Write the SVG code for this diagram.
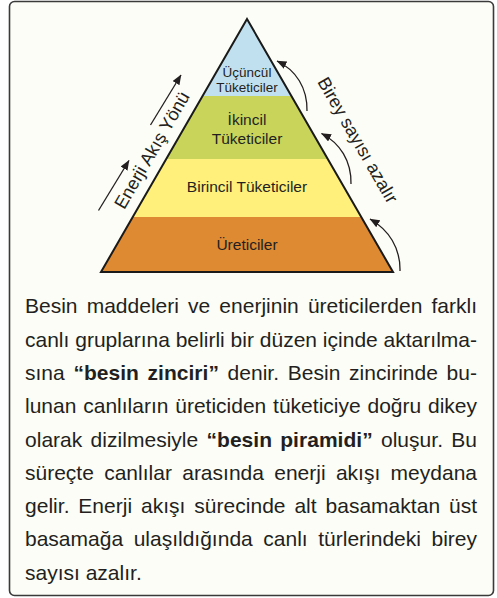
<svg xmlns="http://www.w3.org/2000/svg" width="497" height="598" viewBox="0 0 497 598">
<defs>
<style>
text{font-family:"Liberation Sans",Arial,Helvetica,sans-serif;fill:#231f20}
.lvl{font-size:15.5px;text-anchor:middle}
.lvl-s{font-size:13.5px;text-anchor:middle}
.side{font-size:18px;text-anchor:middle}
.para{font-size:21px}
.b{font-weight:bold}
.arr{fill:none;stroke:#231f20;stroke-width:1.3}
</style>
<marker id="ah" viewBox="0 0 10 8" refX="9.5" refY="4" markerWidth="10" markerHeight="8" markerUnits="userSpaceOnUse" orient="auto">
<path d="M0,0 L10,4 L0,8 Z" fill="#231f20"/>
</marker>
</defs>
<rect x="0" y="0" width="497" height="598" fill="#ffffff"/>
<rect id="frame" x="9.5" y="1.5" width="484" height="594" rx="5" fill="#fcfdf6" stroke="#3a3a3a" stroke-width="1.6"/>

<g id="pyramid">
<g id="level-ureticiler">
<polygon points="132.7,217 361.3,217 393,272 101,272" fill="#dd8a33"/>
<text class="lvl" x="247" y="250">Üreticiler</text>
</g>
<g id="level-birincil">
<polygon points="166.2,159 327.8,159 361.3,217 132.7,217" fill="#fef07b"/>
<text class="lvl" x="247" y="192">Birincil Tüketiciler</text>
</g>
<g id="level-ikincil">
<polygon points="202.6,96 291.4,96 327.8,159 166.2,159" fill="#c9d45b"/>
<text class="lvl" x="247" y="124.5">İkincil</text>
<text class="lvl" x="247" y="143.5">Tüketiciler</text>
</g>
<g id="level-ucuncul">
<polygon points="247,19 291.4,96 202.6,96" fill="#c1e0ef"/>
<text class="lvl-s" x="247" y="76.5">Üçüncül</text>
<text class="lvl-s" x="247" y="91.5">Tüketiciler</text>
</g>
<polygon points="247,19 393,272 101,272" fill="none" stroke="#1a1a1a" stroke-width="2" stroke-linejoin="miter"/>
</g>

<g id="connectors">
<line class="arr" x1="98.5" y1="210.5" x2="129" y2="160.5" marker-end="url(#ah)"/>
<line class="arr" x1="150.5" y1="125" x2="181" y2="75" marker-end="url(#ah)"/>
<path class="arr" d="M307,111 C307.5,88 296,70 277,61" marker-end="url(#ah)"/>
<path class="arr" d="M351,184 C351.5,161 340,143 321.5,133.5" marker-end="url(#ah)"/>
<path class="arr" d="M400,271 C400.5,248 389,230 370,219" marker-end="url(#ah)"/>
</g>

<g id="side-labels">
<text id="enerji" class="side" transform="translate(157.3,153.3) rotate(-60)">Enerji Akış Yönü</text>
<text id="birey" class="side" transform="translate(352.4,143.3) rotate(60)">Birey sayısı azalır</text>
</g>

<g id="paragraph" class="para">
<text class="para" x="25" y="313.3" word-spacing="3.3" textLength="452" lengthAdjust="spacing">Besin maddeleri ve enerjinin üreticilerden farklı</text>
<text class="para" x="25" y="346.6" word-spacing="0" textLength="452" lengthAdjust="spacing">canlı gruplarına belirli bir düzen içinde aktarılma-</text>
<text class="para" x="25" y="379.9" word-spacing="2.8" textLength="452" lengthAdjust="spacing">sına <tspan class="b">“besin zinciri”</tspan> denir. Besin zincirinde bu-</text>
<text class="para" x="25" y="413.2" word-spacing="1" textLength="452" lengthAdjust="spacing">lunan canlıların üreticiden tüketiciye doğru dikey</text>
<text class="para" x="25" y="446.5" word-spacing="2.4" textLength="452" lengthAdjust="spacing">olarak dizilmesiyle <tspan class="b">“besin piramidi”</tspan> oluşur. Bu</text>
<text class="para" x="25" y="479.8" word-spacing="4.5" textLength="452" lengthAdjust="spacing">süreçte canlılar arasında enerji akışı meydana</text>
<text class="para" x="25" y="513.1" word-spacing="3" textLength="452" lengthAdjust="spacing">gelir. Enerji akışı sürecinde alt basamaktan üst</text>
<text class="para" x="25" y="546.4" word-spacing="4.7" textLength="452" lengthAdjust="spacing">basamağa ulaşıldığında canlı türlerindeki birey</text>
<text class="para" x="25" y="579.7">sayısı azalır.</text>
</g>
</svg>
